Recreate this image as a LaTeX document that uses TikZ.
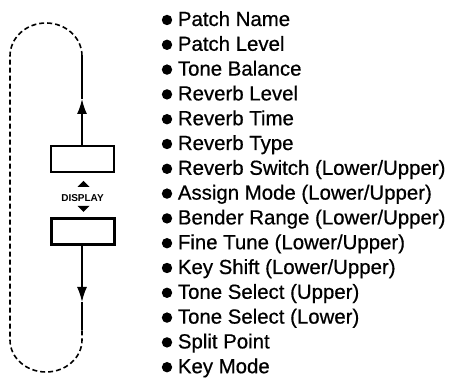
\documentclass[tikz,border=0pt]{standalone}
\usepackage{fontspec}
\setmainfont{Liberation Sans}
\newfontfamily\listfont{Liberation Sans}[FakeBold=0.6]
\usetikzlibrary{arrows.meta}
\tikzset{
  entry/.style={font=\listfont\fontsize{10.2}{12}\selectfont, inner sep=0pt, anchor=base west},
  panel/.style={draw, line width=1.2pt, minimum width=31.5pt, minimum height=13pt, inner sep=0pt},
  loop/.style={line width=0.8pt, dash pattern=on 2.5pt off 1.5pt},
  flow/.style={line width=0.8pt},
  tip/.style={-{Latex[length=7.5pt,width=5pt]}}
}
\begin{document}
\begin{tikzpicture}[x=0.5pt,y=0.5pt]
\useasboundingbox[fill=white] (0,0) rectangle (455,379);
% display windows and the button
\node[panel] (upper) at (82.5,220) {};
\node[panel] (lower) at (83,147.5) {};
\node[font=\fontsize{5}{6}\selectfont\bfseries, inner sep=0pt] (disp) at (82.5,181) {DISPLAY};
\fill (77.5,192) -- (89.5,192) -- (83.5,198) -- cycle;
\fill (77.5,173) -- (89.5,173) -- (83.5,167) -- cycle;
% loop
\coordinate (tipU) at (82,280);
\coordinate (topR) at (82,323);
\coordinate (tipD) at (82,77);
\coordinate (botR) at (82,49);
\draw[flow,tip] (upper.north -| tipU) -- (tipU);
\draw[flow] (tipU) -- (topR);
\draw[flow,tip] (lower.south -| tipD) -- (tipD);
\draw[flow] (tipD) -- (botR);
\draw[loop] (topR) arc[start angle=0, end angle=180, x radius=36, y radius=33]
  -- (10,39) arc[start angle=180, end angle=360, x radius=36, y radius=32] -- (botR);
% list of parameters
\foreach \txt [count=\i] in {Patch Name, Patch Level, Tone Balance, Reverb Level, Reverb Time,
  Reverb Type, Reverb Switch (Lower/Upper), Assign Mode (Lower/Upper), Bender Range (Lower/Upper),
  Fine Tune (Lower/Upper), Key Shift (Lower/Upper), Tone Select (Upper), Tone Select (Lower),
  Split Point, Key Mode} {
  \fill (167,{359-(\i-1)*24.8}) circle (5.2);
  \node[entry] (param\i) at (177.5,{353-(\i-1)*24.8}) {\txt};
}
\end{tikzpicture}
\end{document}
